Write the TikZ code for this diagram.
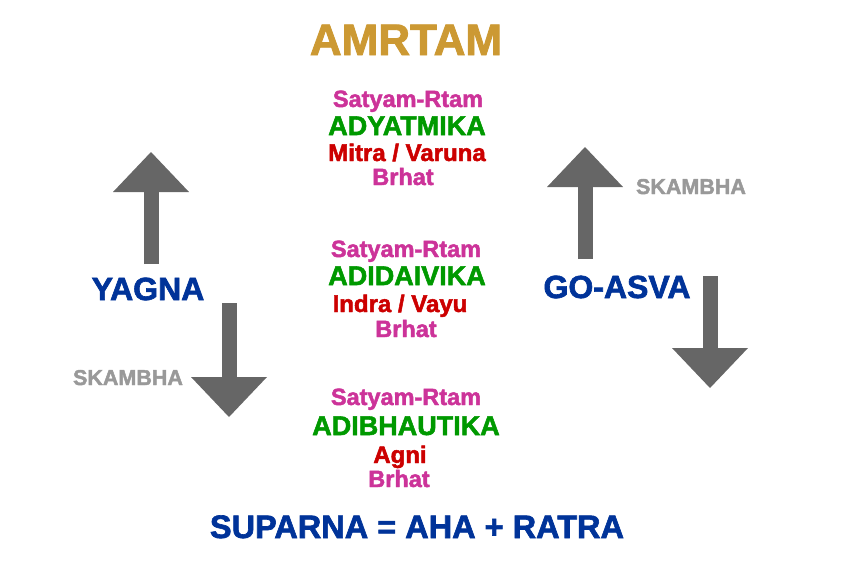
\documentclass[tikz,border=0pt]{standalone}
\usepackage{fontspec}
\setmainfont{Liberation Sans}[BoldFeatures={FakeBold=2}]
\usetikzlibrary{arrows.meta}
\definecolor{amgold}{RGB}{204,153,51}
\definecolor{ammag}{RGB}{204,51,153}
\definecolor{amgreen}{RGB}{0,153,0}
\definecolor{amred}{RGB}{204,0,0}
\definecolor{amblue}{RGB}{0,51,153}
\definecolor{amgrey}{RGB}{153,153,153}
\definecolor{amarrow}{RGB}{102,102,102}
\newcommand{\fsz}[1]{\bfseries\fontsize{#1}{#1}\selectfont}
\tikzset{txt/.style={anchor=base,inner sep=0pt},
  title/.style={txt,text=amgold,font=\fsz{44}},
  truth/.style={txt,text=ammag,font=\fsz{23.5}},
  plane/.style={txt,text=amgreen,font=\fsz{27}},
  deity/.style={txt,text=amred,font=\fsz{24}},
  brhat/.style={txt,text=ammag,font=\fsz{23.5}},
  side/.style={txt,text=amblue,font=\fsz{32}},
  skam/.style={txt,text=amgrey,font=\fsz{21.5}},
  bigarrow/.style={-{Triangle[length=40pt,width=76pt,line width=0pt]},line width=15pt,amarrow}}

\begin{document}
\begin{tikzpicture}[x=1pt,y=-1pt]
\useasboundingbox (0,0) rectangle (864,576);
\node[title] (am) at (406,55) {AMRTAM};
% upper stack
\node[truth] (s1) at (408,107) {Satyam-Rtam};
\node[plane] (p1) at (407,135) {ADYATMIKA};
\node[deity] (d1) at (407,161) {Mitra / Varuna};
\node[brhat] (b1) at (403,185) {Brhat};
% middle stack
\node[truth] (s2) at (406,257) {Satyam-Rtam};
\node[plane] (p2) at (407,285) {ADIDAIVIKA};
\node[deity] (d2) at (400,312) {Indra / Vayu};
\node[brhat] (b2) at (406,337) {Brhat};
% lower stack
\node[truth] (s3) at (406,405) {Satyam-Rtam};
\node[plane] (p3) at (406,435) {ADIBHAUTIKA};
\node[deity] (d3) at (400,463) {Agni};
\node[brhat] (b3) at (399,487) {Brhat};
% sides
\node[side] (yg) at (148,300) {YAGNA};
\node[side] (ga) at (617,298) {GO-ASVA};
\node[skam] (skl) at (128,385) {SKAMBHA};
\node[skam] (skr) at (691,194) {SKAMBHA};
\node[side,font=\fsz{32.5}] (sup) at (417,538) {SUPARNA = AHA + RATRA};
% arrows
\coordinate (lua) at (151,264); \coordinate (lub) at (151,152);
\coordinate (lda) at (229,303); \coordinate (ldb) at (229,417);
\coordinate (rua) at (585,259); \coordinate (rub) at (585,147);
\coordinate (rda) at (710,276); \coordinate (rdb) at (710,388);
\draw[bigarrow] (lua)--(lub); \draw[bigarrow] (lda)--(ldb);
\draw[bigarrow] (rua)--(rub); \draw[bigarrow] (rda)--(rdb);
\end{tikzpicture}
\end{document}
